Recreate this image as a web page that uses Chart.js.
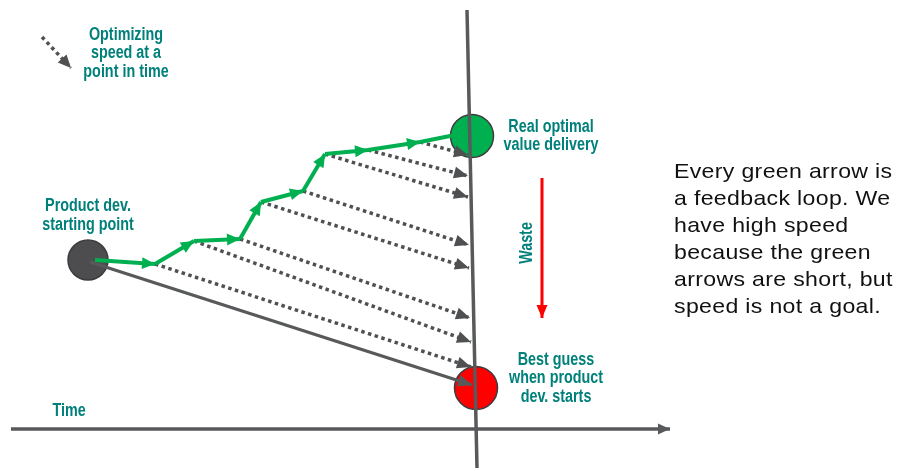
<!DOCTYPE html>
<html>
<head>
<meta charset="utf-8">
<script src="https://cdn.jsdelivr.net/npm/chart.js@4.4.1/dist/chart.umd.min.js"></script>
<style>
html,body{margin:0;padding:0;background:#fff;}
#wrap{position:relative;width:903px;height:471px;}
canvas{display:block;}
</style>
</head>
<body>
<div id="wrap"><canvas id="c" width="903" height="471"></canvas></div>
<script>
// Diagram coordinate system: x 0..903, y 0..471 (y downwards)
const greenX = [95, 155, 194, 240, 261, 303, 325, 368, 420, 455];
const greenY = [260, 264, 241, 239, 202, 191, 154, 150, 142, 135];
// dotted projections start at green vertices 1..8, end at the vertical line
const dottedEndX = [471, 471, 470, 469, 469, 468, 468, 468];
const dottedEndY = [367, 342, 318, 268, 245, 197, 176, 155];
// nodes: start, optimum, best guess
const nodeX = [88, 472, 476];
const nodeY = [260, 136, 388];
const nodeColors = ['#4d4d4f', '#00b050', '#ff0000'];
// axes of the diagram
const timeAxisX = [11, 670], timeAxisY = [429, 429];
const nowLineX = [467, 477], nowLineY = [10, 468];
const guessLineX = [90, 472], guessLineY = [262, 385];
const wasteX = [542, 542], wasteY = [178, 318];
const legendArrowX = [42, 71], legendArrowY = [37, 68];

const GRAY = '#58595b', DOT = '#4f5052', GREEN = '#00b050', TEAL = '#00807a';

const datasets = [];
function seg(xs, ys, color, width, dash, arrow, order) {
  datasets.push({
    type: 'line',
    data: xs.map((x, i) => ({x: x, y: ys[i]})),
    borderColor: color, backgroundColor: color,
    borderWidth: width, borderDash: dash || [], borderCapStyle: 'butt',
    pointRadius: 0, pointHoverRadius: 0, tension: 0, fill: false,
    arrow: arrow, order: order
  });
}
// nodes (behind)
datasets.push({
  type: 'scatter',
  data: nodeX.map((x, i) => ({x: x, y: nodeY[i]})),
  pointRadius: [20, 21.5, 21.5], pointHoverRadius: [20, 21.5, 21.5],
  pointBackgroundColor: nodeColors, pointBorderColor: '#3c3c3e', pointBorderWidth: 1.5,
  order: 10
});
seg(timeAxisX, timeAxisY, GRAY, 3.5, null, {len: 12, w: 11}, 5);
seg(nowLineX, nowLineY, GRAY, 3.5, null, null, 5);
seg(guessLineX, guessLineY, GRAY, 3.2, null, {len: 14, w: 12}, 1);
for (let i = 1; i <= 8; i++) {
  seg([greenX[i], dottedEndX[i - 1]], [greenY[i], dottedEndY[i - 1]], DOT, 3.5, [3.5, 3.5], {len: 14, w: 12}, 2);
}
for (let i = 0; i < greenX.length - 1; i++) {
  const last = i === greenX.length - 2;
  seg([greenX[i], greenX[i + 1]], [greenY[i], greenY[i + 1]], GREEN, 4, null, last ? null : {len: 13, w: 12}, 1);
}
seg(wasteX, wasteY, '#ff0000', 3, null, {len: 13, w: 11}, 1);
seg(legendArrowX, legendArrowY, DOT, 3.5, [3.5, 3.5], {len: 13, w: 12}, 1);

const arrowPlugin = {
  id: 'arrows',
  afterDatasetsDraw(chart) {
    const ctx = chart.ctx, xs = chart.scales.x, ys = chart.scales.y;
    chart.data.datasets.forEach((ds) => {
      if (!ds.arrow) return;
      const n = ds.data.length;
      const p1 = ds.data[n - 2], p2 = ds.data[n - 1];
      const x1 = xs.getPixelForValue(p1.x), y1 = ys.getPixelForValue(p1.y);
      const x2 = xs.getPixelForValue(p2.x), y2 = ys.getPixelForValue(p2.y);
      const a = Math.atan2(y2 - y1, x2 - x1);
      const L = ds.arrow.len, W = ds.arrow.w / 2;
      ctx.save();
      ctx.translate(x2, y2); ctx.rotate(a);
      ctx.fillStyle = ds.borderColor;
      ctx.beginPath();
      ctx.moveTo(0, 0); ctx.lineTo(-L, -W); ctx.lineTo(-L, W); ctx.closePath();
      ctx.fill();
      ctx.restore();
    });
  }
};

const labels = [
  {lines: ['Optimizing', 'speed at a', 'point in time'], x: 126, y: [35, 53, 72]},
  {lines: ['Product dev.', 'starting point'], x: 88, y: [206, 225]},
  {lines: ['Real optimal', 'value delivery'], x: 551, y: [127, 145]},
  {lines: ['Best guess', 'when product', 'dev. starts'], x: 556, y: [360, 378, 397]},
  {lines: ['Time'], x: 69, y: [411]}
];
const noteLines = ['Every green arrow is', 'a feedback loop. We', 'have high speed',
  'because the green', 'arrows are short, but', 'speed is not a goal.'];
const noteY = [172, 199, 226, 253, 280, 307];

function scaledText(ctx, t, x, y, sx, rot) {
  ctx.save();
  ctx.translate(x, y);
  if (rot) ctx.rotate(rot);
  ctx.scale(sx, 1);
  ctx.fillText(t, 0, 0);
  ctx.restore();
}

const textPlugin = {
  id: 'texts',
  afterDraw(chart) {
    const ctx = chart.ctx, xs = chart.scales.x, ys = chart.scales.y;
    ctx.save();
    ctx.fillStyle = TEAL;
    ctx.font = 'bold 17.5px "Liberation Sans", Arial, sans-serif';
    ctx.textAlign = 'center'; ctx.textBaseline = 'middle';
    labels.forEach(l => l.lines.forEach((t, i) =>
      scaledText(ctx, t, xs.getPixelForValue(l.x), ys.getPixelForValue(l.y[i]), 0.82, 0)));
    scaledText(ctx, 'Waste', xs.getPixelForValue(527), ys.getPixelForValue(243), 0.82, -Math.PI / 2);
    ctx.fillStyle = '#111111';
    ctx.font = '21px "Liberation Sans", Arial, sans-serif';
    ctx.textAlign = 'left';
    try { ctx.letterSpacing = '0.3px'; } catch (e) {}
    noteLines.forEach((t, i) => scaledText(ctx, t, xs.getPixelForValue(674), ys.getPixelForValue(noteY[i]), 1.1, 0));
    try { ctx.letterSpacing = '0px'; } catch (e) {}
    ctx.restore();
  }
};

new Chart(document.getElementById('c'), {
  type: 'scatter',
  data: {datasets: datasets},
  options: {
    responsive: false, maintainAspectRatio: false, animation: false,
    layout: {padding: 0, autoPadding: false},
    plugins: {legend: {display: false}, tooltip: {enabled: false}, title: {display: false}},
    events: [],
    scales: {
      x: {type: 'linear', min: 0, max: 903, display: false},
      y: {type: 'linear', min: 0, max: 471, reverse: true, display: false}
    }
  },
  plugins: [arrowPlugin, textPlugin]
});
</script>
</body>
</html>
